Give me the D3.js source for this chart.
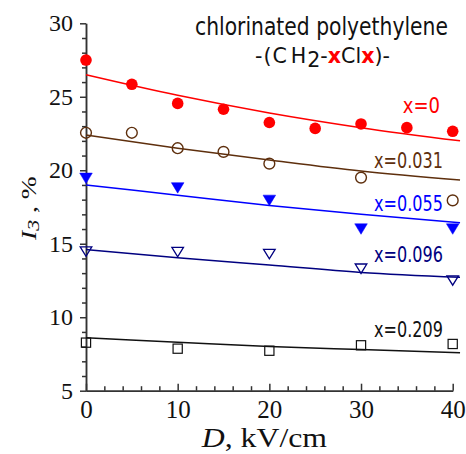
<!DOCTYPE html>
<html>
<head>
<meta charset="utf-8">
<script src="https://cdn.jsdelivr.net/npm/d3@7"></script>
<style>
  body { margin: 0; background: #fff; }
  svg { display: block; }
  .axis path, .axis line { stroke: #333; stroke-width: 1.5; }
  .axis text { font-family: 'Liberation Serif', serif; fill: #111; }
</style>
</head>
<body>
<svg id="chart" width="466" height="454"></svg>
<script>
// tick values
const xTicks = [0, 10, 20, 30, 40];
const xMinorTicks = [2, 4, 6, 8, 12, 14, 16, 18, 22, 24, 26, 28, 32, 34, 36, 38];
const yTicks = [5, 10, 15, 20, 25, 30];
const yMinorTicks = [6, 7, 8, 9, 11, 12, 13, 14, 16, 17, 18, 19, 21, 22, 23, 24, 26, 27, 28, 29];

// measured points (D in kV/cm, I3 in %)
const dX0 = [0, 5, 10, 15, 20, 25, 30, 35, 40];
const iX0 = [27.5, 25.85, 24.55, 24.15, 23.25, 22.85, 23.15, 22.9, 22.65];
const dX031 = [0, 5, 10, 15, 20, 30, 40];
const iX031 = [22.55, 22.55, 21.5, 21.25, 20.45, 19.5, 17.95];
const dX055 = [0, 10, 20, 30, 40];
const iX055 = [19.45, 18.8, 17.95, 16.0, 16.0];
const dX096 = [0, 10, 20, 30, 40];
const iX096 = [14.47, 14.43, 14.3, 13.3, 12.5];
const dX209 = [0, 10, 20, 30, 40];
const iX209 = [8.27, 7.86, 7.72, 8.09, 8.18];

// fitted curves, read at these D values
const fitD = [0, 10, 20, 30, 40.8];
const fitX0 = [26.5, 25.1, 23.9, 22.9, 22.0];
const fitX031 = [22.4, 21.5, 20.7, 19.95, 19.33];
const fitX055 = [19.0, 18.3, 17.6, 17.0, 16.42];
const fitX096 = [14.6, 14.05, 13.55, 13.05, 12.72];
const fitX209 = [8.6, 8.3, 8.0, 7.8, 7.59];

const seriesLabels = ['x=0', 'x=0.031', 'x=0.055', 'x=0.096', 'x=0.209'];

const series = [
  { label: seriesLabels[0], d: dX0, v: iX0, fit: fitX0, color: '#ff0000', marker: 'dot' },
  { label: seriesLabels[1], d: dX031, v: iX031, fit: fitX031, color: '#5e2f0d', marker: 'ring' },
  { label: seriesLabels[2], d: dX055, v: iX055, fit: fitX055, color: '#0000ff', marker: 'triFill' },
  { label: seriesLabels[3], d: dX096, v: iX096, fit: fitX096, color: '#000080', marker: 'triOpen' },
  { label: seriesLabels[4], d: dX209, v: iX209, fit: fitX209, color: '#111111', marker: 'square' }
];

// where each label sits (left, baseline, width)
const LABEL_POS = [
  [402.7, 112.7, 37.3],
  [374, 168.3, 69],
  [374, 210.7, 69],
  [374, 261.7, 69],
  [374, 336.7, 69]
];

const svg = d3.select('#chart');

const scaleX = d3.scaleLinear().domain([0, 40]).range([86, 452.7]);
const scaleY = d3.scaleLinear().domain([5, 30]).range([390.7, 23.3]);

// squeeze a text horizontally to a wanted width
function fitWidth(sel, left, baseline, width, extra) {
  const bw = sel.node().getBBox().width;
  sel.attr('transform', 'translate(' + left + ',' + baseline + ')' + (extra || '') + ' scale(' + (width / bw) + ',1)');
}

// axes
const axisX = d3.axisBottom(scaleX)
  .tickValues(xTicks)
  .tickSizeInner(-7)
  .tickSizeOuter(0)
  .tickPadding(10);

const axisXMinor = d3.axisBottom(scaleX)
  .tickValues(xMinorTicks)
  .tickSizeInner(-4.5)
  .tickSizeOuter(0)
  .tickFormat('');

const axisY = d3.axisLeft(scaleY)
  .tickValues(yTicks)
  .tickSizeInner(6)
  .tickSizeOuter(0)
  .tickPadding(7);

const axisYMinor = d3.axisLeft(scaleY)
  .tickValues(yMinorTicks)
  .tickSizeInner(4)
  .tickSizeOuter(0)
  .tickFormat('');

svg.append('g')
  .attr('class', 'axis axis-x-minor')
  .attr('transform', 'translate(0,' + scaleY(5) + ')')
  .call(axisXMinor);

svg.append('g')
  .attr('class', 'axis axis-x')
  .attr('transform', 'translate(0,' + scaleY(5) + ')')
  .call(axisX)
  .selectAll('text')
  .attr('font-size', 25);

svg.append('g')
  .attr('class', 'axis axis-y-minor')
  .attr('transform', 'translate(' + scaleX(0) + ',0)')
  .call(axisYMinor);

svg.append('g')
  .attr('class', 'axis axis-y')
  .attr('transform', 'translate(' + scaleX(0) + ',0)')
  .call(axisY)
  .selectAll('text')
  .attr('font-size', 24);

// fit lines
const line = d3.line()
  .x(d => scaleX(d[0]))
  .y(d => scaleY(d[1]))
  .curve(d3.curveMonotoneX);

svg.append('g')
  .attr('class', 'fits')
  .selectAll('path')
  .data(series)
  .enter()
  .append('path')
  .attr('fill', 'none')
  .attr('stroke', d => d.color)
  .attr('stroke-width', 1.5)
  .attr('d', s => line(fitD.map((d, i) => [d, s.fit[i]])));

// markers
const markerGroups = svg.append('g')
  .attr('class', 'markers')
  .selectAll('g')
  .data(series)
  .enter()
  .append('g');

markerGroups.each(function (s) {
  const g = d3.select(this);
  const pts = s.d.map((d, i) => [scaleX(d), scaleY(s.v[i])]);
  const sel = g.selectAll('.pt')
    .data(pts)
    .enter();
  if (s.marker === 'dot' || s.marker === 'ring') {
    sel.append('circle')
      .attr('cx', p => p[0])
      .attr('cy', p => p[1])
      .attr('r', s.marker === 'dot' ? 5.8 : 5.4)
      .attr('fill', s.marker === 'dot' ? s.color : 'none')
      .attr('stroke', s.color)
      .attr('stroke-width', s.marker === 'dot' ? 0 : 1.4);
  } else if (s.marker === 'square') {
    sel.append('rect')
      .attr('x', p => p[0] - 4.6)
      .attr('y', p => p[1] - 4.6)
      .attr('width', 9.2)
      .attr('height', 9.2)
      .attr('fill', 'none')
      .attr('stroke', s.color)
      .attr('stroke-width', 1.2);
  } else {
    const w = s.marker === 'triFill' ? 12.6 : 11.6;
    const h = s.marker === 'triFill' ? 10.5 : 9.4;
    sel.append('path')
      .attr('d', p => 'M' + (p[0] - w / 2) + ',' + (p[1] - h / 2) + 'L' + (p[0] + w / 2) + ',' + (p[1] - h / 2) + 'L' + p[0] + ',' + (p[1] + h / 2) + 'Z')
      .attr('fill', s.marker === 'triFill' ? s.color : 'none')
      .attr('stroke', s.color)
      .attr('stroke-width', s.marker === 'triFill' ? 0.5 : 1.3)
      .attr('stroke-linejoin', 'miter');
  }
});

// series labels
series.forEach((s, i) => {
  const t = svg.append('text')
    .attr('font-family', 'DejaVu Sans, sans-serif')
    .attr('font-size', 22)
    .attr('fill', s.color)
    .text(s.label);
  fitWidth(t, LABEL_POS[i][0], LABEL_POS[i][1], LABEL_POS[i][2]);
});

// title
const title1 = svg.append('text')
  .attr('font-family', 'DejaVu Sans, sans-serif')
  .attr('font-size', 25)
  .attr('fill', '#111')
  .text('chlorinated polyethylene');
fitWidth(title1, 195, 35, 253);

const title2 = svg.append('text')
  .attr('font-family', 'DejaVu Sans, sans-serif')
  .attr('font-size', 21)
  .attr('fill', '#111');
title2.append('tspan').text('-(C').attr('letter-spacing', 1);
title2.append('tspan').text('H').attr('dx', 3);
title2.append('tspan').text('2').attr('dy', 4).attr('dx', 1);
title2.append('tspan').text('-').attr('dy', -4);
title2.append('tspan').text('x').attr('fill', '#ff0000').attr('font-weight', 'bold');
title2.append('tspan').text('Cl');
title2.append('tspan').text('x').attr('fill', '#ff0000').attr('font-weight', 'bold');
title2.append('tspan').text(')-');
fitWidth(title2, 255, 63.3, 135);

// axis titles
const xTitle = svg.append('text')
  .attr('font-family', 'Liberation Serif, serif')
  .attr('font-size', 27)
  .attr('fill', '#111');
xTitle.append('tspan').text('D').attr('font-style', 'italic');
xTitle.append('tspan').text(',  kV/cm');
fitWidth(xTitle, 201.7, 446.5, 126.6);

const yTitle = svg.append('text')
  .attr('font-family', 'Liberation Serif, serif')
  .attr('font-size', 21)
  .attr('fill', '#111');
yTitle.append('tspan').text('I').attr('font-style', 'italic');
yTitle.append('tspan').text('3').attr('font-style', 'italic').attr('font-size', 17).attr('dy', 3);
yTitle.append('tspan').text(' , %').attr('dy', -3);
fitWidth(yTitle, 36, 240, 65, ' rotate(-90)');
</script>
</body>
</html>
